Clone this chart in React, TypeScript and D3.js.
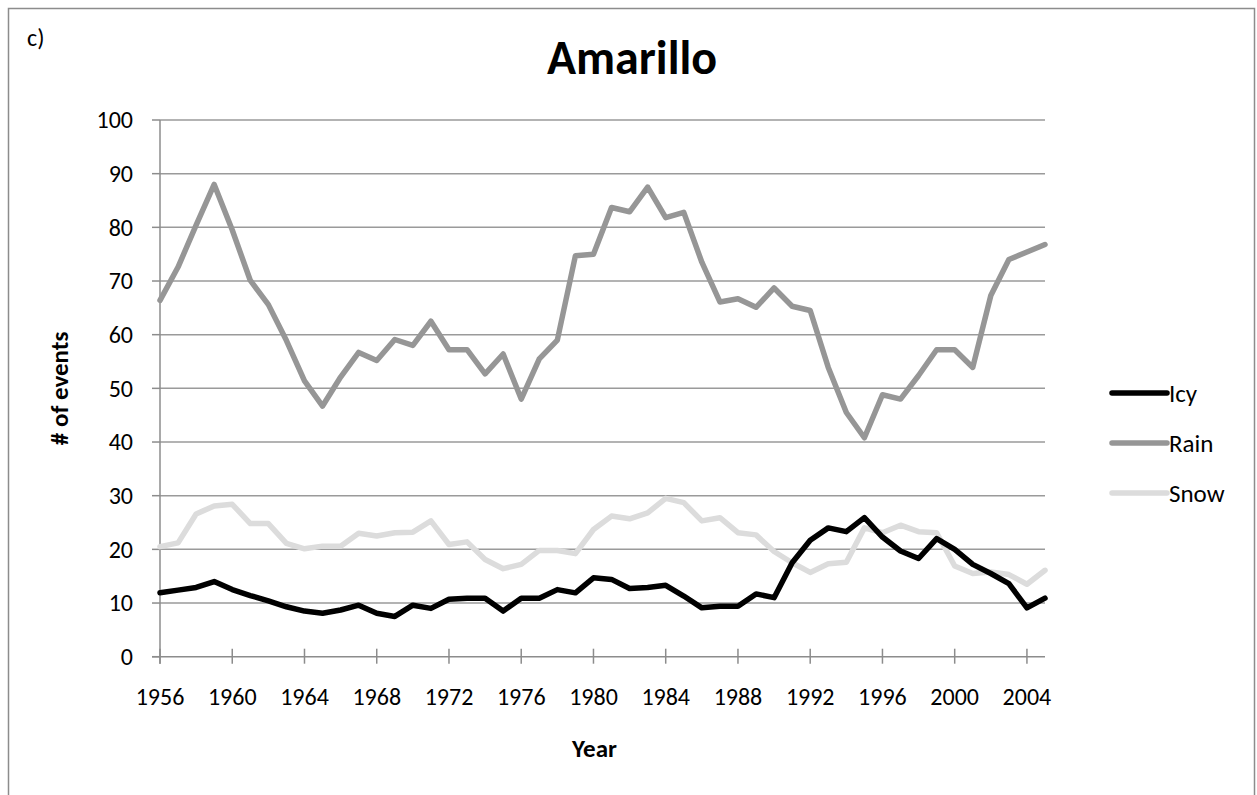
import React, { useEffect, useRef } from "react";
import * as d3 from "d3";

// years on the category axis
const years = [
  1956, 1957, 1958, 1959, 1960, 1961, 1962, 1963, 1964, 1965, 1966, 1967, 1968,
  1969, 1970, 1971, 1972, 1973, 1974, 1975, 1976, 1977, 1978, 1979, 1980, 1981,
  1982, 1983, 1984, 1985, 1986, 1987, 1988, 1989, 1990, 1991, 1992, 1993, 1994,
  1995, 1996, 1997, 1998, 1999, 2000, 2001, 2002, 2003, 2004, 2005,
];

const icy = [
  11.9, 12.4, 12.9, 14.0, 12.5, 11.4, 10.4, 9.3, 8.5, 8.1, 8.7, 9.6, 8.1, 7.5,
  9.6, 9.0, 10.7, 10.9, 10.9, 8.5, 10.9, 10.9, 12.5, 11.9, 14.7, 14.4, 12.7,
  12.9, 13.3, 11.3, 9.1, 9.4, 9.4, 11.7, 11.0, 17.5, 21.7, 24.0, 23.3, 25.9,
  22.3, 19.7, 18.3, 22.0, 20.0, 17.2, 15.5, 13.6, 9.1, 10.9,
];

const rain = [
  66.4, 72.6, 80.4, 88.0, 79.5, 70.1, 65.6, 58.9, 51.4, 46.7, 52.1, 56.7, 55.2,
  59.1, 58.0, 62.5, 57.2, 57.2, 52.7, 56.4, 48.0, 55.5, 59.0, 74.7, 75.0, 83.7,
  82.9, 87.5, 81.8, 82.8, 73.5, 66.1, 66.7, 65.1, 68.7, 65.3, 64.5, 53.9, 45.5,
  40.8, 48.8, 48.0, 52.4, 57.2, 57.2, 53.9, 67.3, 74.0, 75.4, 76.8,
];

const snow = [
  20.5, 21.2, 26.6, 28.1, 28.4, 24.8, 24.8, 21.1, 20.1, 20.6, 20.6, 23.0, 22.5,
  23.1, 23.2, 25.3, 20.9, 21.4, 18.1, 16.4, 17.2, 19.8, 19.8, 19.2, 23.7, 26.2,
  25.7, 26.8, 29.5, 28.7, 25.3, 25.9, 23.1, 22.7, 19.6, 17.5, 15.7, 17.3, 17.6,
  24.0, 23.1, 24.5, 23.3, 23.1, 16.9, 15.5, 15.8, 15.3, 13.5, 16.1,
];

const yTicks = [0, 10, 20, 30, 40, 50, 60, 70, 80, 90, 100];
const xTickYears = [
  1956, 1960, 1964, 1968, 1972, 1976, 1980, 1984, 1988, 1992, 1996, 2000, 2004,
];

const seriesNames = ["Icy", "Rain", "Snow"];
const seriesColors = ["#000000", "#969696", "#dcdcdc"];

const FONT = "Carlito, Calibri, Lato, 'Open Sans', sans-serif";

const App = () => {
  const ref = useRef<SVGSVGElement>(null);

  useEffect(() => {
    const width = 1257;
    const height = 795;
    const svg = d3.select(ref.current);
    svg.selectAll("*").remove();
    svg.attr("width", width).attr("height", height);

    // outer chart frame
    svg
      .append("rect")
      .attr("x", 8.5)
      .attr("y", 8.5)
      .attr("width", 1246)
      .attr("height", 800)
      .attr("fill", "white")
      .attr("stroke", "#8c8c8c")
      .attr("stroke-width", 1.5);

    const x = d3.scaleLinear().domain([1956, 2005]).range([160, 1045]);
    const y = d3.scaleLinear().domain([0, 100]).range([656.7, 120]);

    // gridlines
    svg
      .append("g")
      .selectAll("line")
      .data(yTicks.filter((d) => d > 0))
      .join("line")
      .attr("x1", x(1956))
      .attr("x2", x(2005))
      .attr("y1", (d) => y(d))
      .attr("y2", (d) => y(d))
      .attr("stroke", "#9a9a9a")
      .attr("stroke-width", 1.5);

    // y axis
    const yAxis = svg.append("g").attr("transform", `translate(${x(1956)},0)`);
    yAxis
      .append("line")
      .attr("y1", y(100))
      .attr("y2", y(0) + 7)
      .attr("stroke", "#8c8c8c")
      .attr("stroke-width", 1.5);
    yAxis
      .selectAll("line.tick")
      .data(yTicks)
      .join("line")
      .attr("class", "tick")
      .attr("x1", -8)
      .attr("x2", 0)
      .attr("y1", (d) => y(d))
      .attr("y2", (d) => y(d))
      .attr("stroke", "#8c8c8c")
      .attr("stroke-width", 1.5);
    yAxis
      .selectAll("text")
      .data(yTicks)
      .join("text")
      .attr("x", -27)
      .attr("y", (d) => y(d))
      .attr("dy", "0.34em")
      .attr("text-anchor", "end")
      .attr("font-family", FONT)
      .attr("font-size", 24)
      .text((d) => d);

    // x axis
    const xAxis = svg.append("g").attr("transform", `translate(0,${y(0)})`);
    xAxis
      .append("line")
      .attr("x1", x(1956) - 8)
      .attr("x2", x(2005))
      .attr("stroke", "#8c8c8c")
      .attr("stroke-width", 1.5);
    xAxis
      .selectAll("line.tick")
      .data(xTickYears)
      .join("line")
      .attr("class", "tick")
      .attr("x1", (d) => x(d))
      .attr("x2", (d) => x(d))
      .attr("y1", -8)
      .attr("y2", 7)
      .attr("stroke", "#8c8c8c")
      .attr("stroke-width", 1.5);
    xAxis
      .selectAll("text")
      .data(xTickYears)
      .join("text")
      .attr("x", (d) => x(d))
      .attr("y", 48)
      .attr("text-anchor", "middle")
      .attr("font-family", FONT)
      .attr("font-size", 24)
      .text((d) => d);

    // lines (snow, rain, then icy on top)
    const seriesData = [icy, rain, snow];
    const line = d3
      .line<number>()
      .x((_, i) => x(years[i]))
      .y((d) => y(d));
    [2, 1, 0].forEach((k) => {
      svg
        .append("path")
        .datum(seriesData[k])
        .attr("d", line)
        .attr("fill", "none")
        .attr("stroke", seriesColors[k])
        .attr("stroke-width", 5.5)
        .attr("stroke-linejoin", "round")
        .attr("stroke-linecap", "round");
    });

    // legend
    const legend = svg
      .append("g")
      .selectAll("g")
      .data(seriesNames)
      .join("g")
      .attr("transform", (_, i) => `translate(1112,${393 + i * 50})`);
    legend
      .append("line")
      .attr("x1", 0)
      .attr("x2", 55)
      .attr("stroke", (_, i) => seriesColors[i])
      .attr("stroke-width", 5.5)
      .attr("stroke-linecap", "round");
    legend
      .append("text")
      .attr("x", 57)
      .attr("dy", "0.34em")
      .attr("font-family", FONT)
      .attr("font-size", 25)
      .text((d) => d);

    // titles
    svg
      .append("text")
      .attr("x", 632)
      .attr("y", 74)
      .attr("text-anchor", "middle")
      .attr("font-family", FONT)
      .attr("font-size", 48)
      .attr("font-weight", "bold")
      .text("Amarillo");
    svg
      .append("text")
      .attr("x", 27)
      .attr("y", 46)
      .attr("font-family", FONT)
      .attr("font-size", 24)
      .text("c)");
    svg
      .append("text")
      .attr("transform", `translate(68,${y(50)}) rotate(-90)`)
      .attr("text-anchor", "middle")
      .attr("font-family", FONT)
      .attr("font-size", 25)
      .attr("font-weight", "bold")
      .text("# of events");
    svg
      .append("text")
      .attr("x", (x(1956) + x(2005)) / 2 - 8)
      .attr("y", 757)
      .attr("text-anchor", "middle")
      .attr("font-family", FONT)
      .attr("font-size", 25)
      .attr("font-weight", "bold")
      .text("Year");
  }, []);

  return (
    <div style={{ position: "absolute", left: 0, top: 0 }}>
      <svg ref={ref}></svg>
    </div>
  );
};

export default App;
